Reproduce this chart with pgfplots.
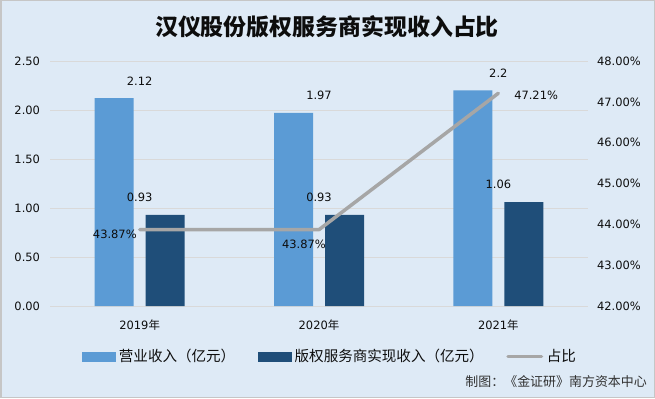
\documentclass[border=0pt]{standalone}
\usepackage{pgfplots}
\pgfplotsset{compat=1.18}
\usepackage{pgfplotstable}
\usepackage{fontspec}
\setmainfont{DejaVu Sans}
\newfontfamily\cjk{Noto Sans CJK SC}
\definecolor{bg}{RGB}{222,234,246}
\definecolor{lb}{RGB}{91,155,213}
\definecolor{db}{RGB}{31,78,121}
\definecolor{ln}{RGB}{166,166,166}
\definecolor{gridc}{RGB}{217,217,217}
\definecolor{txt}{RGB}{13,13,13}
\pgfplotstableread{
x rev copy
0 2.12 0.93
1 1.97 0.93
2 2.2 1.06
}\bars
\pgfplotstableread{
x pct
0 43.87
1 43.87
2 47.21
}\ratio
\begin{document}
\begin{tikzpicture}[x=1bp,y=1bp]
\fill[bg] (0,0) rectangle (655,398);
\draw[gray!45, line width=1.5bp] (0.75,0.75) rectangle (654.25,397.25);
\node[font=\cjk\bfseries\fontsize{23}{26}\selectfont, text=txt] at (327,371) {汉仪股份版权服务商实现收入占比};
\node[font=\cjk\fontsize{13}{15}\selectfont, text=txt!85, anchor=east, inner sep=0pt] at (647,16.5) {制图：《金证研》南方资本中心};
\begin{axis}[
  at={(50bp,92bp)}, anchor=south west, scale only axis,
  width=538bp, height=245bp,
  xmin=-0.5, xmax=2.5, ymin=0, ymax=2.5,
  ytick={0,0.5,1,1.5,2,2.5},
  xtick={0,1,2}, xticklabels={2019{\cjk 年},2020{\cjk 年},2021{\cjk 年}},
  axis line style={draw=none}, major tick length=0pt,
  ymajorgrids, grid style={gridc, line width=0.8bp},
  tick label style={font=\fontsize{11.5}{13}\selectfont, text=txt},
  /pgf/number format/assume math mode=true,
  yticklabel style={/pgf/number format/fixed, /pgf/number format/fixed zerofill, /pgf/number format/precision=2, xshift=-6.5bp},
  xticklabel style={yshift=-10bp},
  nodes near coords style={font=\fontsize{11.5}{13}\selectfont, text=txt, anchor=south, yshift=9.5bp},
  clip=false,
]
\addplot[ybar, bar width=39bp, bar shift=-25.5bp, fill=lb, draw=none, nodes near coords] table[x=x,y=rev]{\bars};
\addplot[ybar, bar width=39bp, bar shift=25.5bp, fill=db, draw=none, nodes near coords] table[x=x,y=copy]{\bars};
\end{axis}
\begin{axis}[
  at={(50bp,92bp)}, anchor=south west, scale only axis,
  width=538bp, height=245bp,
  xmin=-0.5, xmax=2.5, ymin=42, ymax=48,
  ytick={42,43,44,45,46,47,48},
  axis x line=none, axis y line*=right,
  axis line style={draw=none}, major tick length=0pt,
  tick label style={font=\fontsize{11.5}{13}\selectfont, text=txt},
  /pgf/number format/assume math mode=true,
  yticklabel={\pgfmathprintnumber[fixed,fixed zerofill,precision=2]{\tick}\%},
  yticklabel style={xshift=5.5bp},
  clip=false,
  legend columns=3,
  legend style={at={(0.0595,-0.206)}, anchor=west, draw=none, fill=none, inner sep=0pt, outer sep=0pt,
    font=\cjk\fontsize{14.6}{16}\selectfont, text=txt,
    /tikz/every even column/.append style={column sep=19bp},
    nodes={inner xsep=3.5bp, inner ysep=0pt}},
]
\addlegendimage{legend image code/.code={\fill[lb] (0bp,-4.5bp) rectangle (33bp,4.5bp);}}
\addlegendentry{营业收入（亿元）}
\addlegendimage{legend image code/.code={\fill[db] (0bp,-4.5bp) rectangle (33bp,4.5bp);}}
\addlegendentry{版权服务商实现收入（亿元）}
\addplot[ln, line width=3.5bp, line cap=round, line join=round, mark=none,
  legend image code/.code={\draw[ln, line width=3.5bp, line cap=round] (1.5bp,0bp) -- (35bp,0bp);}]
  table[x=x,y=pct]{\ratio};
\addlegendentry{占比}
\addplot[draw=none, mark=none, forget plot,
  nodes near coords={\pgfmathprintnumber[fixed,fixed zerofill,precision=2]{\pgfplotspointmeta}\%},
  nodes near coords style={font=\fontsize{11.5}{13}\selectfont, text=txt, anchor=east, xshift=0.5bp, yshift=-4.5bp}]
  coordinates {(0,43.87)};
\addplot[draw=none, mark=none, forget plot,
  nodes near coords={\pgfmathprintnumber[fixed,fixed zerofill,precision=2]{\pgfplotspointmeta}\%},
  nodes near coords style={font=\fontsize{11.5}{13}\selectfont, text=txt, anchor=north east, xshift=10.3bp, yshift=-6.7bp}]
  coordinates {(1,43.87)};
\addplot[draw=none, mark=none, forget plot,
  nodes near coords={\pgfmathprintnumber[fixed,fixed zerofill,precision=2]{\pgfplotspointmeta}\%},
  nodes near coords style={font=\fontsize{11.5}{13}\selectfont, text=txt, anchor=west, xshift=12.4bp, yshift=-1.7bp}]
  coordinates {(2,47.21)};
\end{axis}
\end{tikzpicture}
\end{document}
